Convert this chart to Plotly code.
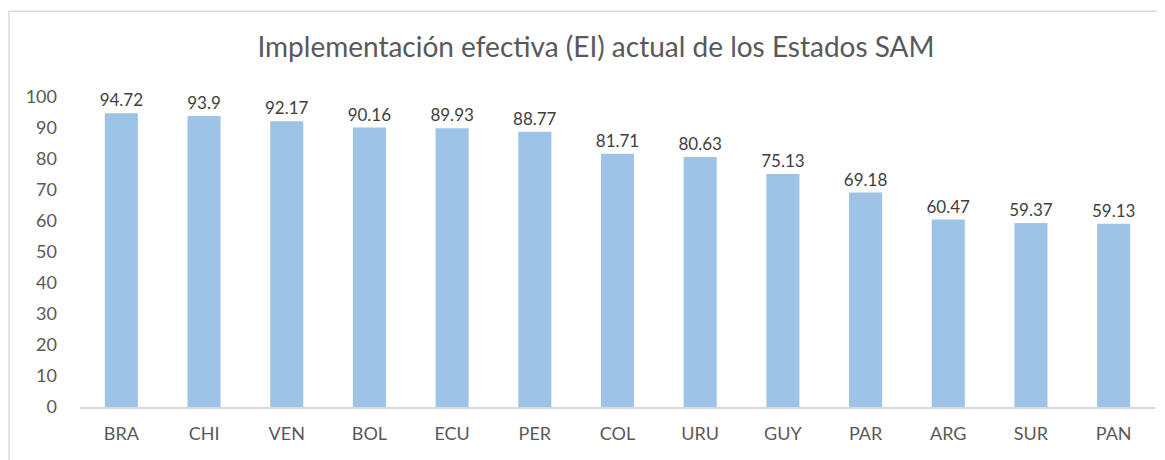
import plotly.graph_objects as go

countries = ["BRA", "CHI", "VEN", "BOL", "ECU", "PER", "COL", "URU", "GUY", "PAR", "ARG", "SUR", "PAN"]
values = [94.72, 93.9, 92.17, 90.16, 89.93, 88.77, 81.71, 80.63, 75.13, 69.18, 60.47, 59.37, 59.13]
labels = ["94.72", "93.9", "92.17", "90.16", "89.93", "88.77", "81.71", "80.63", "75.13", "69.18", "60.47", "59.37", "59.13"]
title = "Implementación efectiva (EI) actual de los Estados SAM"

font_family = "Lato, 'Open Sans', sans-serif"

fig = go.Figure(go.Bar(
    x=countries, y=values, text=labels, textposition="outside",
    constraintext="none",
    textfont=dict(size=17, color="#404040", family=font_family),
    marker=dict(color="#9dc3e6", line=dict(width=0)),
    cliponaxis=False, width=0.4,
))

fig.update_layout(
    width=1165, height=460,
    margin=dict(l=72, r=18, t=89, b=61),
    paper_bgcolor="white", plot_bgcolor="white",
    title=dict(text=title, x=0.48, xref="paper", xanchor="center", y=0.915, yanchor="middle",
               font=dict(size=28, color="#595959", family=font_family)),
    showlegend=False,
    xaxis=dict(showline=True, linecolor="#d9d9d9", linewidth=1.5, ticks="",
               tickfont=dict(size=18, color="#595959", family=font_family),
               ticklabelstandoff=10, showgrid=False),
    yaxis=dict(range=[0, 100], dtick=10, showgrid=False, showline=False, zeroline=False,
               tickfont=dict(size=18, color="#595959", family=font_family),
               ticklabelstandoff=22),
    shapes=[dict(type="rect", xref="paper", yref="paper",
                 x0=-0.066, x1=1.2, y0=-0.3, y1=1.277,
                 line=dict(color="#d9d9d9", width=1.5), fillcolor="rgba(0,0,0,0)", layer="below")],
)

fig.write_html("out.html")
